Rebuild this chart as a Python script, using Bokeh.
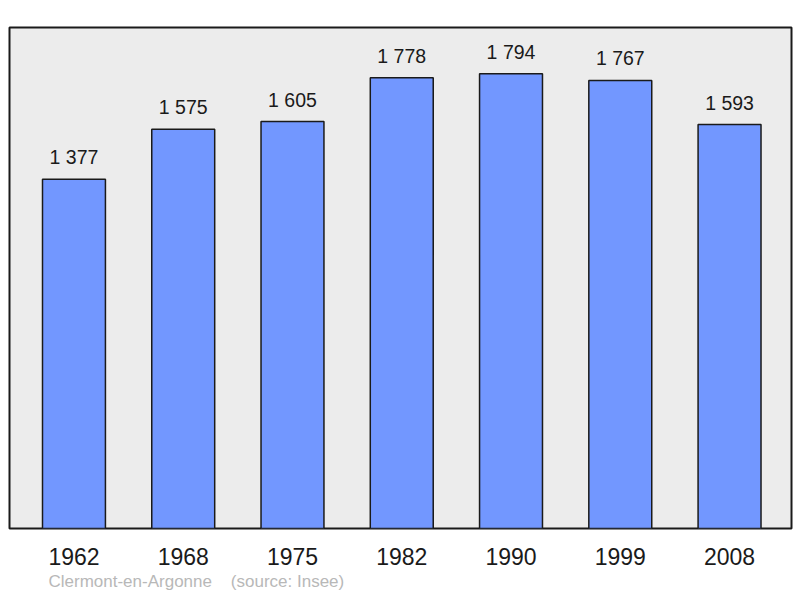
from bokeh.plotting import figure
from bokeh.models import ColumnDataSource, FixedTicker, Range1d, Title
from bokeh.core.properties import value
from bokeh.embed import file_html
from bokeh.resources import INLINE

years = ["1962", "1968", "1975", "1982", "1990", "1999", "2008"]
population = [1377, 1575, 1605, 1778, 1794, 1767, 1593]
value_labels = ["1 377", "1 575", "1 605", "1 778", "1 794", "1 767", "1 593"]
source_note = "Clermont-en-Argonne\u00a0\u00a0\u00a0\u00a0(source: Insee)"

idx = list(range(len(years)))
src = ColumnDataSource(dict(x=idx, top=population, lab=value_labels))

p = figure(width=800, height=598, output_backend="svg", toolbar_location=None,
           x_range=Range1d(-0.59, 6.567), y_range=Range1d(0, 1976),
           min_border_left=9, min_border_right=9, min_border_top=27, min_border_bottom=70)
p.background_fill_color = "#ececec"
p.border_fill_color = "white"
p.outline_line_color = "#1a1a1a"
p.outline_line_width = 2
p.xgrid.visible = False
p.ygrid.visible = False
p.yaxis.visible = False

p.vbar(x="x", top="top", width=0.576, bottom=0, source=src,
       fill_color="#7297ff", line_color="#1a1a1a", line_width=1.5)

p.text(x="x", y="top", text="lab", source=src, y_offset=-22,
       text_align="center", text_baseline="alphabetic",
       text_font=value("Liberation Sans"), text_font_size="19.5px", text_color="#1a1a1a")

ax = p.xaxis[0]
ax.ticker = FixedTicker(ticks=idx)
ax.major_label_overrides = {i: y for i, y in zip(idx, years)}
ax.axis_line_color = None
ax.major_tick_line_color = None
ax.minor_tick_line_color = None
ax.major_tick_out = 0
ax.major_tick_in = 0
ax.major_label_standoff = 19
ax.major_label_text_font = "Liberation Sans"
ax.major_label_text_font_size = "23px"
ax.major_label_text_color = "#1a1a1a"

p.add_layout(Title(text=source_note, align="left", offset=39, standoff=5,
                   text_font="Liberation Sans", text_font_size="17px",
                   text_font_style="normal", text_color="#b8b8b8"), "below")

open("out.html", "w").write(file_html(p, INLINE))
